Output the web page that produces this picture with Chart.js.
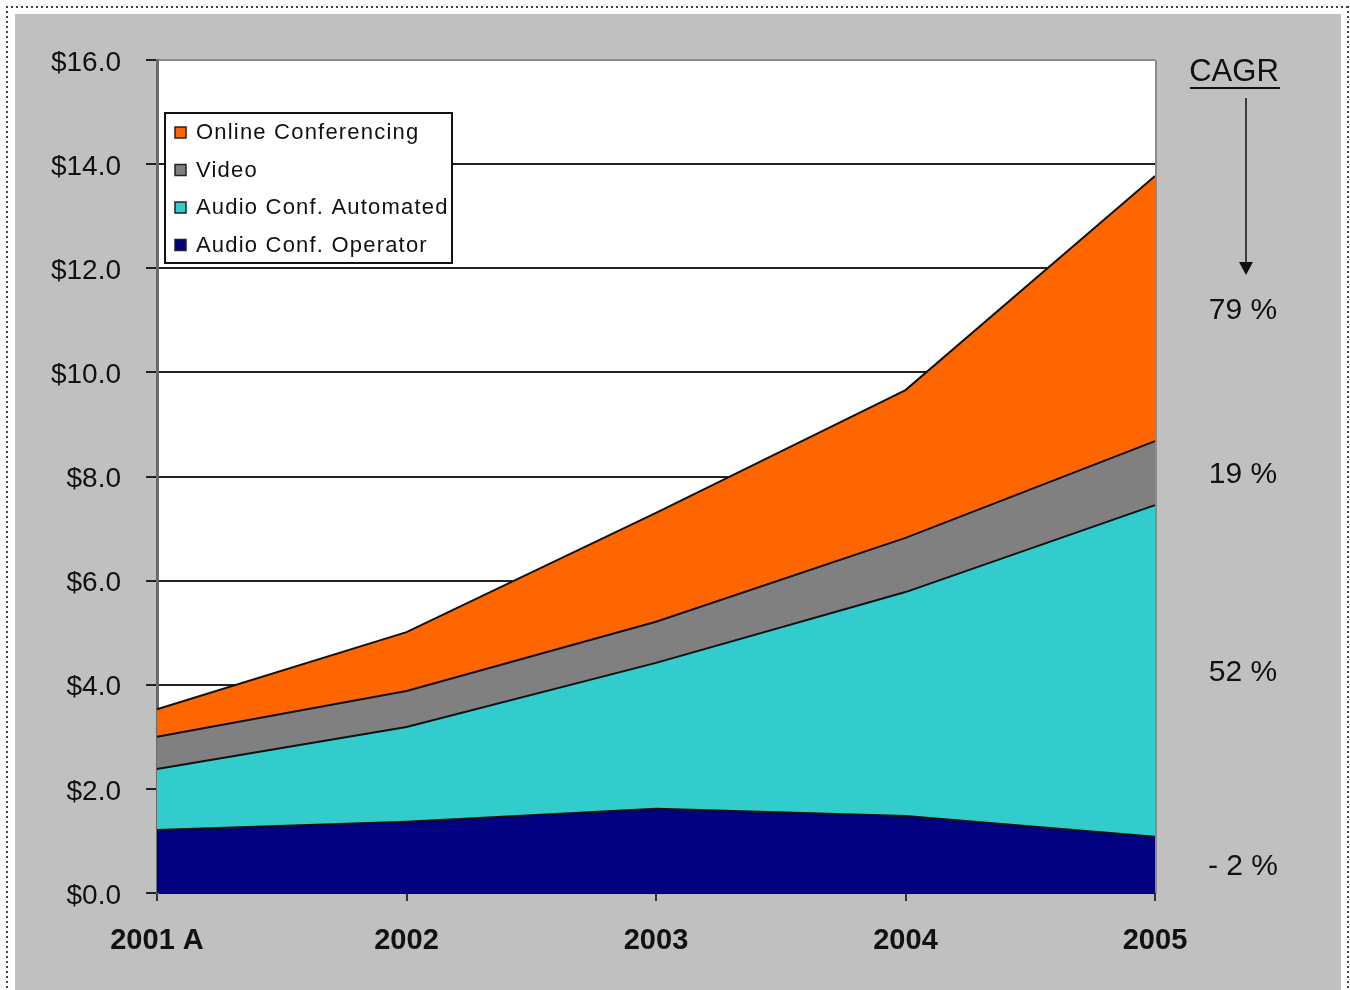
<!DOCTYPE html>
<html>
<head>
<meta charset="utf-8">
<title>Conferencing Market</title>
<script src="https://cdn.jsdelivr.net/npm/chart.js@4.4.1/dist/chart.umd.min.js"></script>
<style>
  html, body { margin: 0; padding: 0; background: #ffffff; }
  #wrap { width: 1350px; height: 990px; position: relative; }
</style>
</head>
<body>
<div id="wrap"><canvas id="c" width="1350" height="990"></canvas></div>
<script>
// Market size by year, $ billions
const years = ['2001 A', '2002', '2003', '2004', '2005'];
const audioOperator  = [1.21, 1.37, 1.62, 1.48, 1.08];
const audioAutomated = [1.17, 1.82, 2.80, 4.30, 6.37];
const video          = [0.62, 0.69, 0.79, 1.04, 1.23];
const onlineConf     = [0.53, 1.13, 2.09, 2.84, 5.09];
const cagrLabels     = ['- 2 %', '52 %', '19 %', '79 %'];   // operator, automated, video, online
const yTicks = [0, 2, 4, 6, 8, 10, 12, 14, 16];

const FONT = '"Liberation Sans", Arial, sans-serif';

const series = [
  { label: 'Audio Conf. Operator',  data: audioOperator,  color: '#000080' },
  { label: 'Audio Conf. Automated', data: audioAutomated, color: '#33cccc' },
  { label: 'Video',                 data: video,          color: '#808080' },
  { label: 'Online Conferencing',   data: onlineConf,     color: '#ff6600' }
];

// page frame: dotted outline, grey panel, white plot area
const framePlugin = {
  id: 'frame',
  beforeDraw(chart) {
    const ctx = chart.ctx, a = chart.chartArea;
    ctx.save();
    ctx.fillStyle = '#ffffff';
    ctx.fillRect(0, 0, chart.width, chart.height);
    ctx.fillStyle = '#444';
    for (let x = 6; x < 1348; x += 5) { ctx.fillRect(x, 6, 2, 2); }
    for (let y = 6; y < 990; y += 5) { ctx.fillRect(6, y, 2, 2); ctx.fillRect(1347, y, 2, 2); }
    ctx.fillStyle = '#c0c0c0';
    ctx.fillRect(15, 14, 1326, 990 - 14);
    ctx.fillStyle = '#ffffff';
    ctx.fillRect(a.left, a.top, a.right - a.left, a.bottom - a.top);
    ctx.restore();
  },
  afterDatasetsDraw(chart) {
    const ctx = chart.ctx, a = chart.chartArea;
    ctx.save();
    ctx.strokeStyle = '#8a8a8a';
    ctx.lineWidth = 2;
    ctx.beginPath();
    ctx.moveTo(a.right + 1, a.top);
    ctx.lineTo(a.right + 1, a.bottom);
    ctx.stroke();
    ctx.restore();
  }
};

// boxed legend inside the plot, top series first
const boxLegend = {
  id: 'boxLegend',
  afterDraw(chart) {
    const ctx = chart.ctx;
    const x0 = 165, y0 = 113, w = 287, h = 150;
    ctx.save();
    ctx.fillStyle = '#ffffff';
    ctx.fillRect(x0, y0, w, h);
    ctx.strokeStyle = '#111';
    ctx.lineWidth = 2;
    ctx.strokeRect(x0, y0, w, h);
    const ds = chart.data.datasets.slice().reverse();
    ctx.font = '22px ' + FONT;
    ctx.letterSpacing = '1.2px';
    ctx.textBaseline = 'middle';
    ds.forEach((d, i) => {
      const cy = 132 + i * 37.5;
      ctx.fillStyle = d.backgroundColor;
      ctx.fillRect(175, cy - 5, 11, 11);
      ctx.strokeStyle = '#222';
      ctx.lineWidth = 1.5;
      ctx.strokeRect(175, cy - 5, 11, 11);
      ctx.fillStyle = '#111';
      ctx.fillText(d.label, 196, cy + 1);
    });
    ctx.restore();
  }
};

// CAGR column on the right, each value beside its band at the last year
const cagrPlugin = {
  id: 'cagr',
  afterDraw(chart) {
    const ctx = chart.ctx, ys = chart.scales.y;
    const cx = 1243;
    ctx.save();
    ctx.fillStyle = '#111';
    ctx.strokeStyle = '#111';
    ctx.font = '31px ' + FONT;
    ctx.textAlign = 'center';
    ctx.textBaseline = 'alphabetic';
    ctx.fillText('CAGR', 1234, 81);
    ctx.lineWidth = 2;
    ctx.beginPath(); ctx.moveTo(1190, 88); ctx.lineTo(1280, 88); ctx.stroke();
    ctx.lineWidth = 1.5;
    ctx.beginPath(); ctx.moveTo(1246, 98); ctx.lineTo(1246, 264); ctx.stroke();
    ctx.beginPath();
    ctx.moveTo(1239, 262); ctx.lineTo(1253, 262); ctx.lineTo(1246, 275); ctx.closePath(); ctx.fill();

    ctx.font = '30px ' + FONT;
    ctx.textBaseline = 'middle';
    const last = years.length - 1;
    let base = 0;
    series.forEach((s, i) => {
      const top = base + s.data[last];
      const mid = (ys.getPixelForValue(base) + ys.getPixelForValue(top)) / 2;
      ctx.fillText(cagrLabels[i], cx, mid + 2);
      base = top;
    });
    ctx.restore();
  }
};

new Chart(document.getElementById('c'), {
  type: 'line',
  data: {
    labels: years,
    datasets: series.map((s, i) => ({
      label: s.label,
      data: s.data,
      backgroundColor: s.color,
      borderColor: '#111',
      borderWidth: 2,
      fill: i === 0 ? 'origin' : '-1',
      pointRadius: 0,
      tension: 0
    }))
  },
  options: {
    responsive: false,
    animation: false,
    devicePixelRatio: 1,
    layout: { padding: { top: 60, right: 195, bottom: 0, left: 0 } },
    plugins: {
      legend: { display: false },
      tooltip: { enabled: false },
      filler: { propagate: false }
    },
    scales: {
      x: {
        offset: false,
        grid: {
          drawOnChartArea: false,
          drawTicks: true,
          tickLength: 8,
          tickColor: '#333',
          lineWidth: 2
        },
        border: { display: true, color: '#000', width: 2 },
        ticks: {
          color: '#111',
          font: { family: FONT, size: 29, weight: 'bold' },
          padding: 23,
          maxRotation: 0,
          autoSkip: false
        },
        afterFit(scale) { scale.height = 97; }
      },
      y: {
        stacked: true,
        min: 0,
        max: 16,
        afterBuildTicks(scale) { scale.ticks = yTicks.map(v => ({ value: v })); },
        grid: {
          color: ctx => ctx.tick && ctx.tick.value === 16 ? '#8a8a8a' : (ctx.tick && ctx.tick.value === 0 ? '#000' : '#222'),
          lineWidth: 2,
          tickLength: 11,
          tickColor: '#222'
        },
        border: { display: true, color: '#6a6a6a', width: 3 },
        ticks: {
          color: '#111',
          font: { family: FONT, size: 28 },
          padding: 25,
          labelOffset: 3,
          callback: v => '$' + Number(v).toFixed(1)
        },
        afterFit(scale) { scale.width = 157; }
      }
    }
  },
  plugins: [framePlugin, boxLegend, cagrPlugin]
});
</script>
</body>
</html>
